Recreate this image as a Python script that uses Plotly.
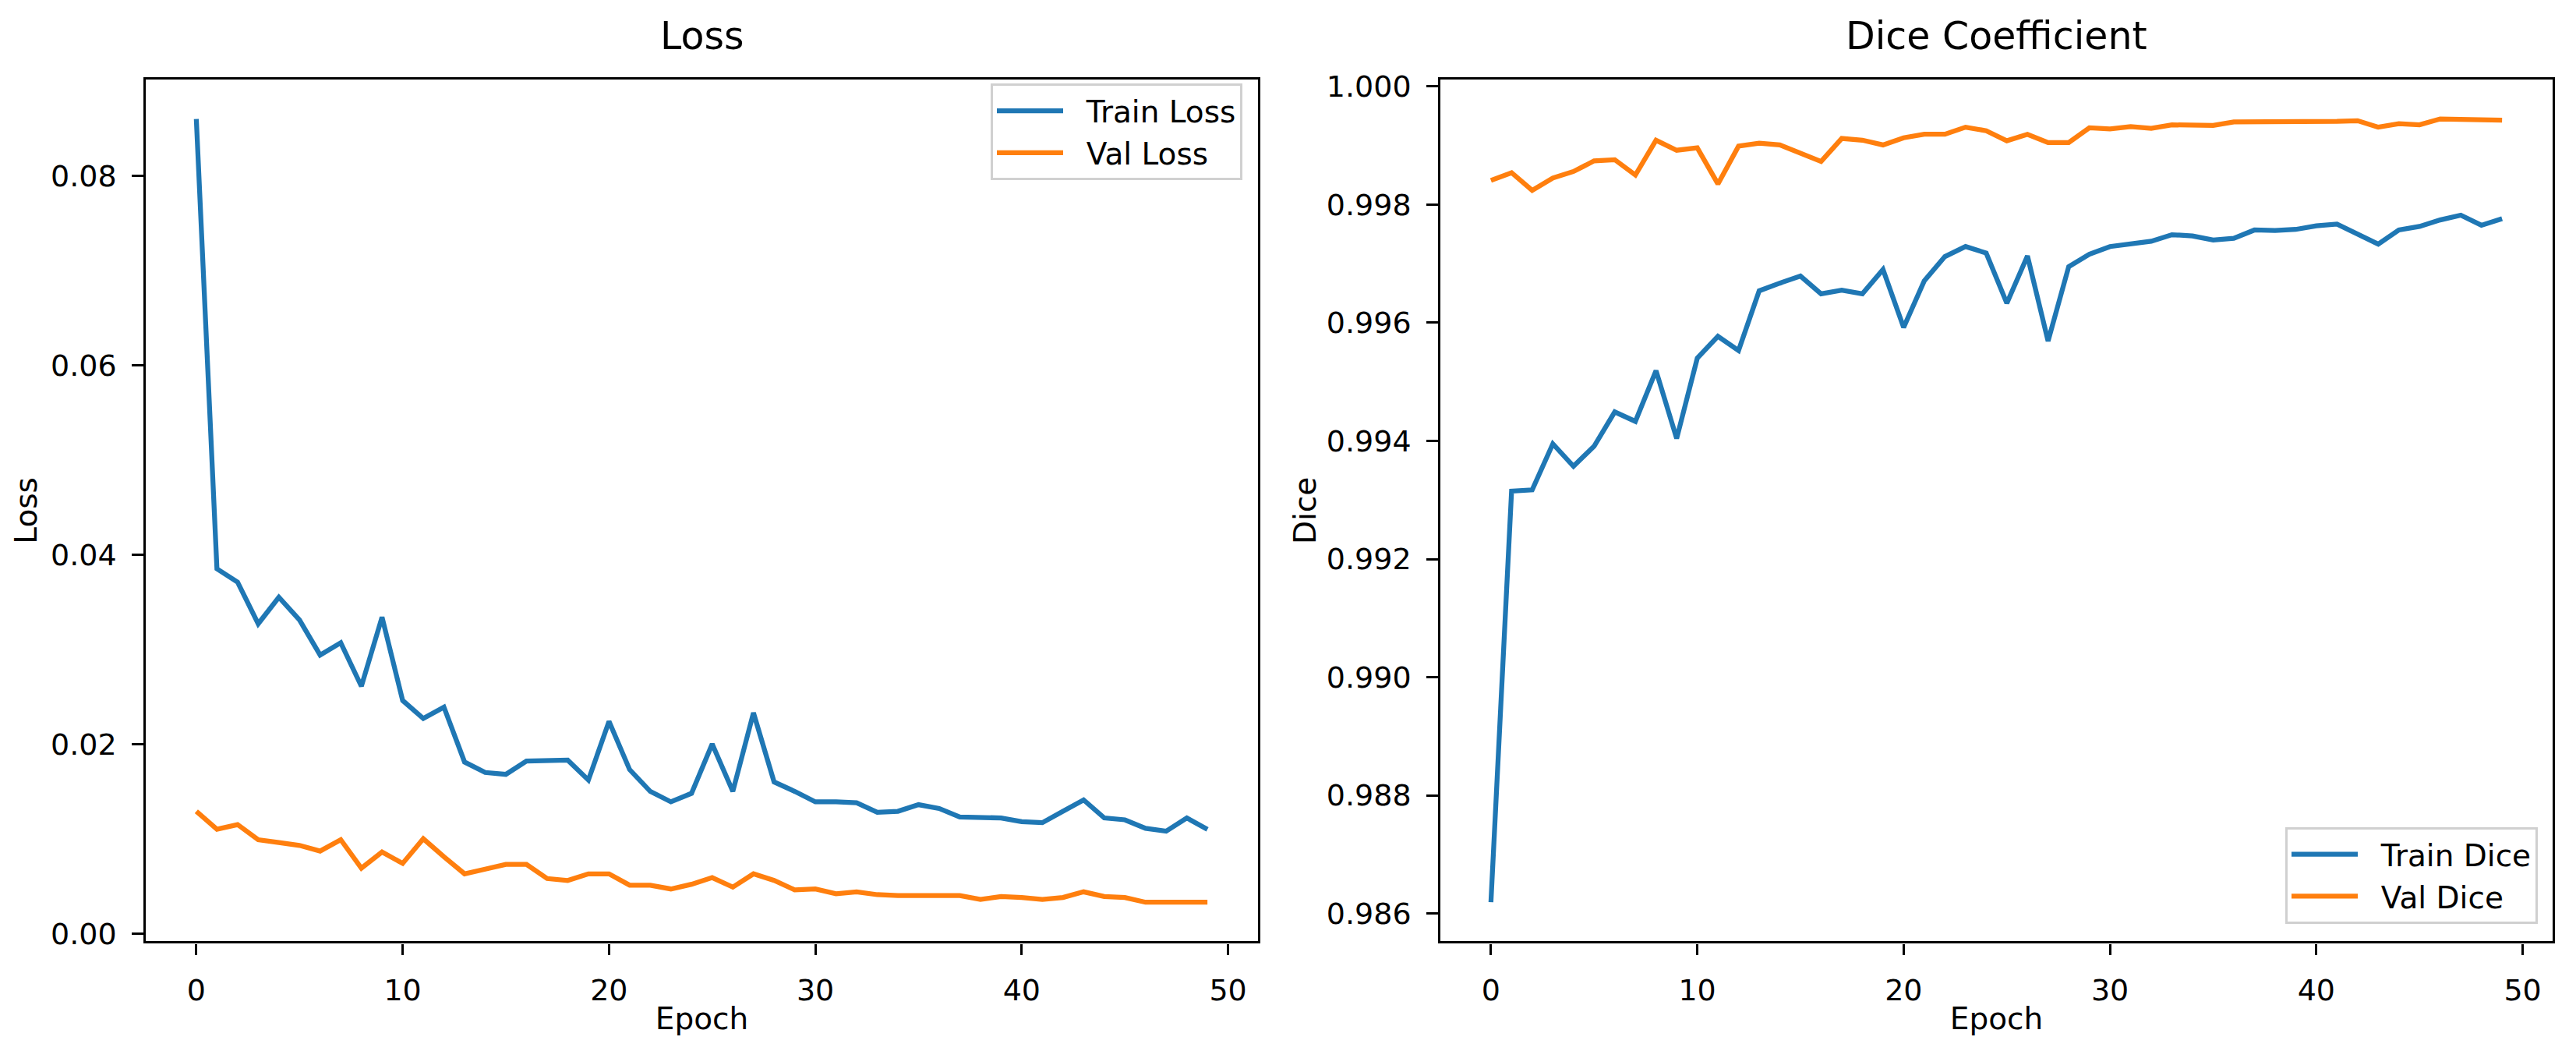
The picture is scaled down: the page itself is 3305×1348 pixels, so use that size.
import plotly.graph_objects as go

epochs = list(range(50))

train_loss = [0.0860, 0.0385, 0.0371, 0.0327, 0.0355, 0.0331, 0.0294, 0.0307, 0.0261, 0.0334,
              0.0246, 0.0227, 0.0239, 0.0181, 0.0170, 0.0168, 0.0182, 0.0182, 0.0183, 0.0162,
              0.0224, 0.0173, 0.0150, 0.0139, 0.0148, 0.0200, 0.0150, 0.0233, 0.0160, 0.0150,
              0.0139, 0.0139, 0.0138, 0.0128, 0.0129, 0.0136, 0.0132, 0.0123, 0.0123, 0.0122,
              0.0118, 0.0117, 0.0129, 0.0141, 0.0122, 0.0120, 0.0111, 0.0108, 0.0122, 0.0110]

val_loss = [0.0129, 0.0110, 0.0115, 0.0099, 0.0096, 0.0093, 0.0087, 0.0099, 0.0069, 0.0086,
            0.0074, 0.0100, 0.0081, 0.0063, 0.0068, 0.0073, 0.0073, 0.0058, 0.0056, 0.0063,
            0.0063, 0.0051, 0.0051, 0.0047, 0.0052, 0.0059, 0.0049, 0.0063, 0.0056, 0.0046,
            0.0047, 0.0042, 0.0044, 0.0041, 0.0040, 0.0040, 0.0039, 0.0040, 0.0036, 0.0039,
            0.0038, 0.0036, 0.0038, 0.0044, 0.0039, 0.0038, 0.0033, 0.0033, 0.0034, 0.0033]

train_dice = [0.98619, 0.99315, 0.99317, 0.99395, 0.99357, 0.99391, 0.99449, 0.99433, 0.99519, 0.99404,
              0.99540, 0.99577, 0.99553, 0.99654, 0.99667, 0.99679, 0.99649, 0.99655, 0.99649, 0.99690,
              0.99592, 0.99671, 0.99712, 0.99729, 0.99718, 0.99633, 0.99713, 0.99569, 0.99695, 0.99716,
              0.99729, 0.99733, 0.99738, 0.99749, 0.99747, 0.99740, 0.99743, 0.99757, 0.99756, 0.99758,
              0.99764, 0.99767, 0.99751, 0.99733, 0.99757, 0.99763, 0.99774, 0.99782, 0.99765, 0.99776]

val_dice = [0.99841, 0.99854, 0.99824, 0.99845, 0.99856, 0.99874, 0.99876, 0.99850, 0.99909, 0.99892,
            0.99896, 0.99835, 0.99899, 0.99904, 0.99901, 0.99888, 0.99873, 0.99912, 0.99909, 0.99901,
            0.99913, 0.99919, 0.99919, 0.99931, 0.99925, 0.99908, 0.99919, 0.99905, 0.99905, 0.99930,
            0.99928, 0.99932, 0.99929, 0.99935, 0.99935, 0.99934, 0.99940, 0.99940, 0.99940, 0.99939,
            0.99940, 0.99941, 0.99942, 0.99931, 0.99937, 0.99935, 0.99945, 0.99944, 0.99942, 0.99943]

x_ticks = [0, 10, 20, 30, 40, 50]
loss_ticks = [0.00, 0.02, 0.04, 0.06, 0.08]
dice_ticks = [0.986, 0.988, 0.990, 0.992, 0.994, 0.996, 0.998, 1.000]

BLUE = "#1f77b4"
ORANGE = "#ff7f0e"
FONT = "DejaVu Sans"
W, H = 3305, 1348
LW = 6.25
TICK_FS = 38
LABEL_FS = 39
LEG_FS = 39
TITLE_FS = 49
PAD = "\u00a0\u00a0"

fig = go.Figure()
fig.add_trace(go.Scatter(x=epochs, y=train_loss, mode="lines", name=PAD + "Train Loss",
                         line=dict(color=BLUE, width=LW), xaxis="x", yaxis="y", legend="legend"))
fig.add_trace(go.Scatter(x=epochs, y=val_loss, mode="lines", name=PAD + "Val Loss",
                         line=dict(color=ORANGE, width=LW), xaxis="x", yaxis="y", legend="legend"))
fig.add_trace(go.Scatter(x=epochs, y=train_dice, mode="lines", name=PAD + "Train Dice",
                         line=dict(color=BLUE, width=LW), xaxis="x2", yaxis="y2", legend="legend2"))
fig.add_trace(go.Scatter(x=epochs, y=val_dice, mode="lines", name=PAD + "Val Dice",
                         line=dict(color=ORANGE, width=LW), xaxis="x2", yaxis="y2", legend="legend2"))

def span(lo, hi):
    m = (hi - lo) * 0.05
    return [lo - m, hi + m]

xr = span(0, 49)
lr = span(min(min(train_loss), min(val_loss)), max(max(train_loss), max(val_loss)))
dr = span(min(min(train_dice), min(val_dice)), max(max(train_dice), max(val_dice)))

y_dom = [1 - 1217 / H, 1 - 91 / H]
x1_dom = [187 / W, 1614 / W]
x2_dom = [1848 / W, 3275 / W]

axis_common = dict(showline=True, linecolor="black", linewidth=3.3, mirror=True,
                   ticks="outside", ticklen=14.6, tickwidth=3.3, tickcolor="black",
                   showgrid=False, zeroline=False, ticklabelstandoff=12,
                   tickfont=dict(family=FONT, size=TICK_FS, color="black"))

legend_common = dict(bgcolor="rgba(255,255,255,0.8)", bordercolor="#d0d0d0", borderwidth=3,
                     font=dict(family=FONT, size=LEG_FS, color="black"), itemwidth=85,
                     tracegroupgap=0)

fig.update_layout(
    width=W, height=H,
    margin=dict(l=0, r=0, t=0, b=0),
    paper_bgcolor="white", plot_bgcolor="white",
    font=dict(family=FONT, color="black"),
    xaxis=dict(domain=x1_dom, range=xr, tickvals=x_ticks, anchor="y",
               title=dict(text="Epoch", font=dict(size=LABEL_FS, family=FONT), standoff=2), **axis_common),
    yaxis=dict(domain=y_dom, range=lr, tickvals=loss_ticks, tickformat=".2f", anchor="x",
               title=dict(text="Loss", font=dict(size=LABEL_FS, family=FONT), standoff=6), **axis_common),
    xaxis2=dict(domain=x2_dom, range=xr, tickvals=x_ticks, anchor="y2",
                title=dict(text="Epoch", font=dict(size=LABEL_FS, family=FONT), standoff=2), **axis_common),
    yaxis2=dict(domain=y_dom, range=dr, tickvals=dice_ticks, tickformat=".3f", anchor="x2",
                title=dict(text="Dice", font=dict(size=LABEL_FS, family=FONT), standoff=2), **axis_common),
    legend=dict(x=1594 / W, y=1 - 96 / H, xanchor="right", yanchor="top", **legend_common),
    legend2=dict(x=3256 / W, y=1 - 1194 / H, xanchor="right", yanchor="bottom", **legend_common),
    annotations=[
        dict(text="Loss", x=(x1_dom[0] + x1_dom[1]) / 2, y=y_dom[1], xref="paper", yref="paper",
             xanchor="center", yanchor="bottom", yshift=25, showarrow=False,
             font=dict(family=FONT, size=TITLE_FS, color="black")),
        dict(text="Dice Coefficient", x=(x2_dom[0] + x2_dom[1]) / 2, y=y_dom[1], xref="paper", yref="paper",
             xanchor="center", yanchor="bottom", yshift=25, showarrow=False,
             font=dict(family=FONT, size=TITLE_FS, color="black")),
    ],
    showlegend=True,
)

fig.write_html("out.html")
